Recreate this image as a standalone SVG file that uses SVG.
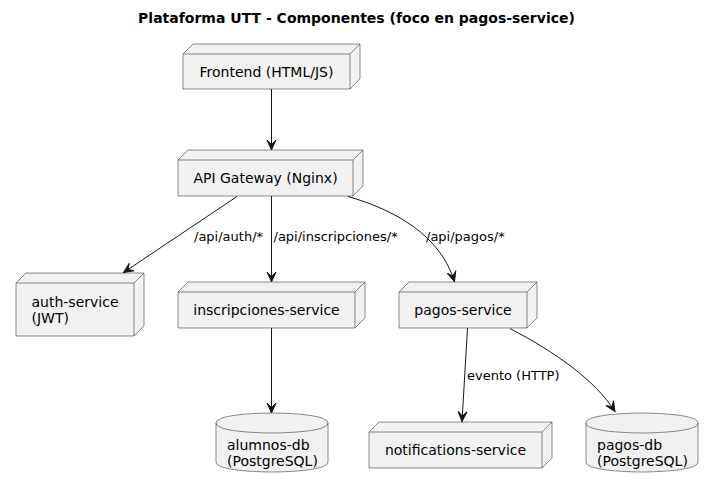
<svg xmlns="http://www.w3.org/2000/svg" width="713" height="491" viewBox="0 0 713 491">
<style>
.n{fill:#F1F1F1;stroke:#181818;stroke-width:0.5}
.l{fill:none;stroke:#181818;stroke-width:0.5}
.e{fill:none;stroke:#181818;stroke-width:1}
.t{font-family:"DejaVu Sans",sans-serif;font-size:14px;fill:#000}
.c{text-anchor:middle}
.lb{font-family:"DejaVu Sans",sans-serif;font-size:13px;fill:#000}
.title{font-family:"DejaVu Sans",sans-serif;font-size:14px;font-weight:bold;fill:#000;text-anchor:middle}
</style>
<defs>
<marker id="a" markerUnits="userSpaceOnUse" markerWidth="12" markerHeight="12" refX="0" refY="0" viewBox="-10 -6 12 12" orient="auto" overflow="visible">
<path d="M0,0 L-10,-4.5 L-5.5,0 L-10,4.5 Z" fill="#181818" stroke="#181818" stroke-width="1"/>
</marker>
</defs>
<rect width="713" height="491" fill="#FFFFFF"/>
<text class="title" x="356.5" y="23">Plataforma UTT - Componentes (foco en pagos-service)</text>
<g id="frontend">
<polygon class="n" points="183,54 193,44 360,44 360,79 350,89 183,89"/>
<path class="l" d="M350,54 L360,44 M183,54 L350,54 M350,54 L350,89"/>
<text class="t c" x="266.5" y="76.5">Frontend (HTML/JS)</text>
</g>
<g id="gateway">
<polygon class="n" points="178,160 188,150 363,150 363,186 353,196 178,196"/>
<path class="l" d="M353,160 L363,150 M178,160 L353,160 M353,160 L353,196"/>
<text class="t c" x="265.5" y="183">API Gateway (Nginx)</text>
</g>
<g id="auth">
<polygon class="n" points="16,283 26,273 144,273 144,326 134,336 16,336"/>
<path class="l" d="M134,283 L144,273 M16,283 L134,283 M134,283 L134,336"/>
<text class="t" x="31.5" y="306.5">auth-service</text>
<text class="t" x="31.5" y="323">(JWT)</text>
</g>
<g id="inscripciones">
<polygon class="n" points="178,292 188,282 365,282 365,318 355,328 178,328"/>
<path class="l" d="M355,292 L365,282 M178,292 L355,292 M355,292 L355,328"/>
<text class="t c" x="266.5" y="315">inscripciones-service</text>
</g>
<g id="pagos">
<polygon class="n" points="399,292 409,282 537,282 537,318 527,328 399,328"/>
<path class="l" d="M527,292 L537,282 M399,292 L527,292 M527,292 L527,328"/>
<text class="t c" x="463" y="315">pagos-service</text>
</g>
<g id="notifications">
<polygon class="n" points="369,432 379,422 552,422 552,458 542,468 369,468"/>
<path class="l" d="M542,432 L552,422 M369,432 L542,432 M542,432 L542,468"/>
<text class="t c" x="455.5" y="455">notifications-service</text>
</g>
<g id="alumnosdb">
<path class="n" d="M216,423 C216,413 272,413 272,413 C272,413 328,413 328,423 L328,462 C328,472 272,472 272,472 C272,472 216,472 216,462 Z"/>
<path class="l" d="M216,423 C216,433 272,433 272,433 C272,433 328,433 328,423"/>
<text class="t" x="227" y="449.5">alumnos-db</text>
<text class="t" x="227" y="466">(PostgreSQL)</text>
</g>
<g id="pagosdb">
<path class="n" d="M586,423 C586,413 642,413 642,413 C642,413 698,413 698,423 L698,462 C698,472 642,472 642,472 C642,472 586,472 586,462 Z"/>
<path class="l" d="M586,423 C586,433 642,433 642,433 C642,433 698,433 698,423"/>
<text class="t" x="597" y="449.5">pagos-db</text>
<text class="t" x="597" y="466">(PostgreSQL)</text>
</g>
<g id="connectors">
<path class="e" d="M271.5,89 L271.5,150" marker-end="url(#a)"/>
<path class="e" d="M237,196.5 L123.5,272.5" marker-end="url(#a)"/>
<path class="e" d="M271.5,196 L271.5,282" marker-end="url(#a)"/>
<path class="e" d="M348,196.5 C395,210 440,235 454.5,281.5" marker-end="url(#a)"/>
<path class="e" d="M271.5,328 L271.5,413" marker-end="url(#a)"/>
<path class="e" d="M467.5,328 L462,421.5" marker-end="url(#a)"/>
<path class="e" d="M510,328.5 C555,352 595,380 615,411.5" marker-end="url(#a)"/>
<text class="lb" x="194" y="240.5">/api/auth/*</text>
<text class="lb" x="273.5" y="240.5">/api/inscripciones/*</text>
<text class="lb" x="426" y="240.5">/api/pagos/*</text>
<text class="lb" x="467" y="379.5">evento (HTTP)</text>
</g>
</svg>
